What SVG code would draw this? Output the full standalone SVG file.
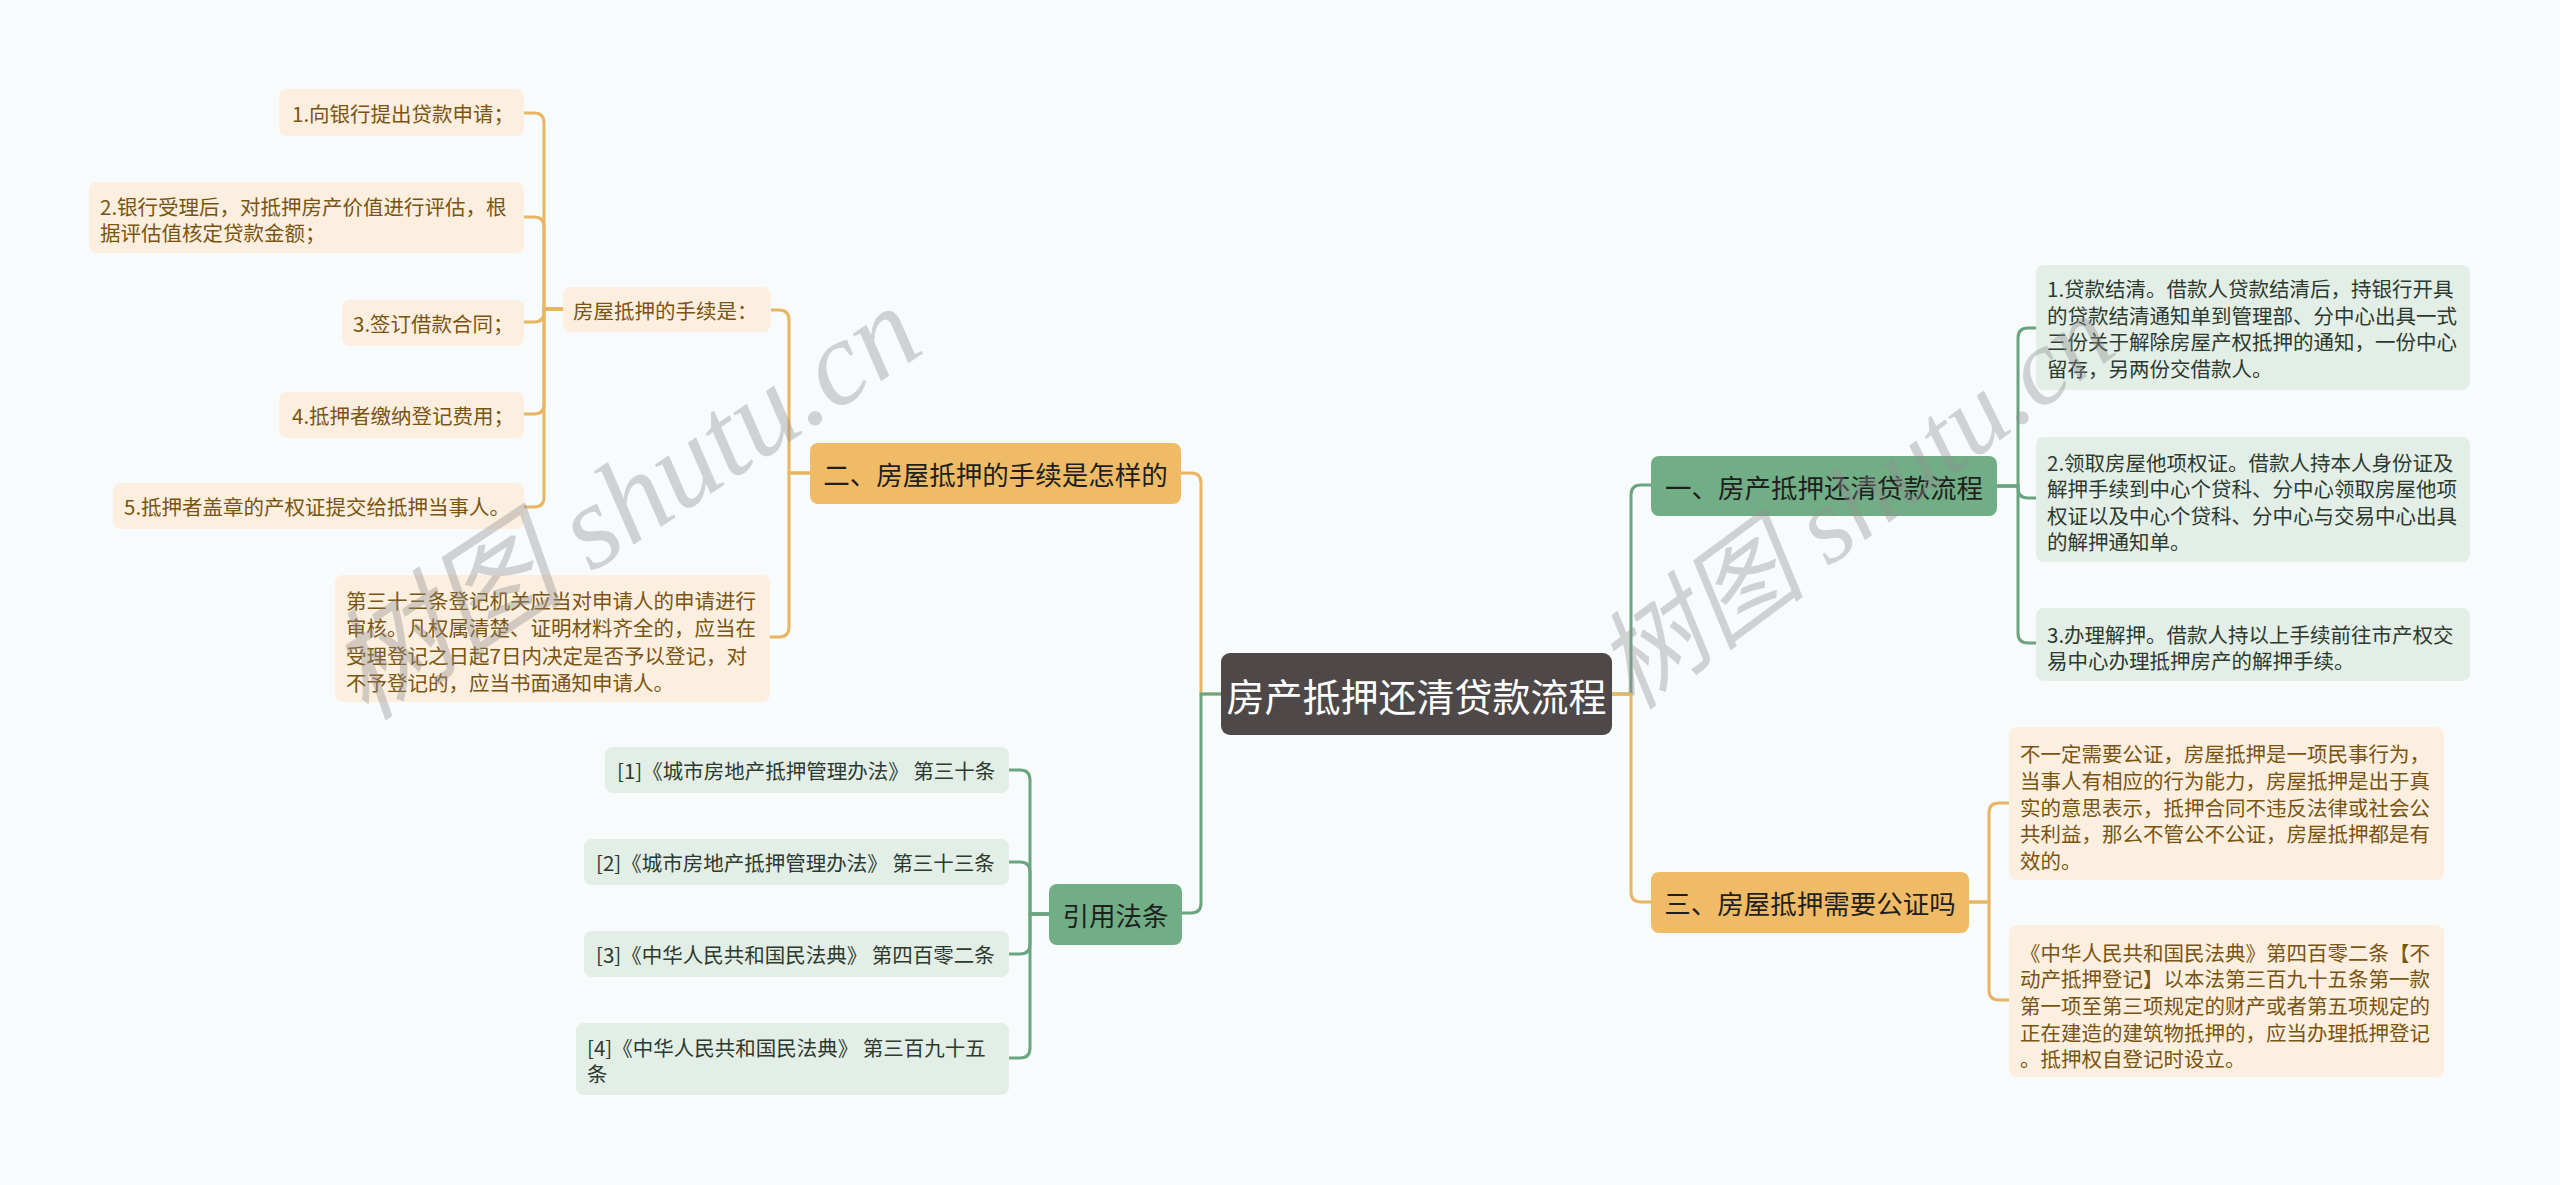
<svg xmlns="http://www.w3.org/2000/svg" width="2560" height="1185" viewBox="0 0 2560 1185">
<defs>
<style>
.bg{fill:#f7fbfc}
.co{fill:none;stroke:#e8b563;stroke-width:3;stroke-linecap:round}
.cg{fill:none;stroke:#6aa57f;stroke-width:3;stroke-linecap:round}
.t{font-family:"Noto Sans CJK SC","Noto Sans",sans-serif;dominant-baseline:central}
.root rect{fill:#4e4848}
.root text{fill:#ffffff;font-size:38px}
.bo rect{fill:#f0bb66}
.bg2 rect{fill:#71ae86}
.bo text,.bg2 text{fill:#1f1f1f;font-size:26.5px}
.lo rect{fill:#fcefdf}
.lo text{fill:#7a5412;font-size:20.5px}
.lg rect{fill:#e3eee6}
.lg text{fill:#2c3a30;font-size:20.5px}
.wm{font-family:"Liberation Serif","Noto Sans CJK SC",serif;font-style:italic;fill:#8f8f8f;opacity:0.38}
</style>
</defs>
<rect class="bg" x="0" y="0" width="2560" height="1185"/>
<g id="connectors">
<path class="co" d="M563,309 H544 V123 Q544,113 534,113 H524"/>
<path class="co" d="M563,309 H544 V227 Q544,217 534,217 H524"/>
<path class="co" d="M563,309 H544 V312 Q544,322 534,322 H524"/>
<path class="co" d="M563,309 H544 V404 Q544,414 534,414 H524"/>
<path class="co" d="M563,309 H544 V497 Q544,507 534,507 H524"/>
<path class="co" d="M810,473 H789 V320 Q789,310 779,310 H771"/>
<path class="co" d="M810,473 H789 V627 Q789,637 779,637 H770"/>
<path class="co" d="M1221,694 H1201 V483 Q1201,473 1191,473 H1181"/>
<path class="cg" d="M1221,694 H1201 V903 Q1201,913 1191,913 H1182"/>
<path class="cg" d="M1049,914 H1030 V780 Q1030,770 1020,770 H1009"/>
<path class="cg" d="M1049,914 H1030 V872 Q1030,862 1020,862 H1009"/>
<path class="cg" d="M1049,914 H1030 V944 Q1030,954 1020,954 H1009"/>
<path class="cg" d="M1049,914 H1030 V1048 Q1030,1058 1020,1058 H1009"/>
<path class="cg" d="M1612,694 H1631 V495 Q1631,485 1641,485 H1651"/>
<path class="co" d="M1612,694 H1631 V892 Q1631,902 1641,902 H1651"/>
<path class="cg" d="M1997,486 H2018 V338 Q2018,328 2028,328 H2036"/>
<path class="cg" d="M1997,486 H2018 V488 Q2018,498 2028,498 H2036"/>
<path class="cg" d="M1997,486 H2018 V633 Q2018,643 2028,643 H2036"/>
<path class="co" d="M1969,902 H1989 V813 Q1989,803 1999,803 H2009"/>
<path class="co" d="M1969,902 H1989 V990 Q1989,1000 1999,1000 H2009"/>
</g>
<g id="root" class="root t"><rect x="1221" y="653" width="391" height="82" rx="9"/><text x="1416.5" y="694" text-anchor="middle">房产抵押还清贷款流程</text></g>
<g id="b2" class="bo t"><rect x="810" y="443" width="371" height="61" rx="8"/><text x="995.5" y="473.5" text-anchor="middle">二、房屋抵押的手续是怎样的</text></g>
<g id="bref" class="bg2 t"><rect x="1049" y="884" width="133" height="61" rx="8"/><text x="1115.5" y="914.5" text-anchor="middle">引用法条</text></g>
<g id="b1" class="bg2 t"><rect x="1651" y="456" width="346" height="60" rx="8"/><text x="1824" y="486" text-anchor="middle">一、房产抵押还清贷款流程</text></g>
<g id="b3" class="bo t"><rect x="1651" y="872" width="318" height="61" rx="8"/><text x="1810" y="902.5" text-anchor="middle">三、房屋抵押需要公证吗</text></g>
<g id="n-proc" class="lo t"><rect x="563" y="287" width="208" height="45" rx="8"/><text x="573" y="310">房屋抵押的手续是：</text></g>
<g id="n-s1" class="lo t"><rect x="279" y="89" width="245" height="47" rx="8"/><text x="292" y="113">1.向银行提出贷款申请；</text></g>
<g id="n-s2" class="lo t"><rect x="89" y="182" width="435" height="71" rx="8"/><text x="100" y="206">2.银行受理后，对抵押房产价值进行评估，根</text><text x="100" y="232">据评估值核定贷款金额；</text></g>
<g id="n-s3" class="lo t"><rect x="342" y="300" width="182" height="46" rx="8"/><text x="353" y="323">3.签订借款合同；</text></g>
<g id="n-s4" class="lo t"><rect x="279" y="392" width="245" height="46" rx="8"/><text x="292" y="415">4.抵押者缴纳登记费用；</text></g>
<g id="n-s5" class="lo t"><rect x="113" y="483" width="411" height="46" rx="8"/><text x="124" y="506">5.抵押者盖章的产权证提交给抵押当事人。</text></g>
<g id="n-art33" class="lo t"><rect x="335" y="575" width="435" height="127" rx="8"/><text x="346" y="600">第三十三条登记机关应当对申请人的申请进行</text><text x="346" y="627">审核。凡权属清楚、证明材料齐全的，应当在</text><text x="346" y="655">受理登记之日起7日内决定是否予以登记，对</text><text x="346" y="682">不予登记的，应当书面通知申请人。</text></g>
<g id="n-r1" class="lg t"><rect x="605" y="747" width="404" height="46" rx="8"/><text x="617" y="770">[1]《城市房地产抵押管理办法》 第三十条</text></g>
<g id="n-r2" class="lg t"><rect x="584" y="839" width="425" height="46" rx="8"/><text x="596" y="862">[2]《城市房地产抵押管理办法》 第三十三条</text></g>
<g id="n-r3" class="lg t"><rect x="584" y="931" width="425" height="46" rx="8"/><text x="596" y="954">[3]《中华人民共和国民法典》 第四百零二条</text></g>
<g id="n-r4" class="lg t"><rect x="576" y="1023" width="433" height="72" rx="8"/><text x="587" y="1047">[4]《中华人民共和国民法典》 第三百九十五</text><text x="587" y="1073">条</text></g>
<g id="n-p1" class="lg t"><rect x="2036" y="265" width="434" height="125" rx="8"/><text x="2047" y="288">1.贷款结清。借款人贷款结清后，持银行开具</text><text x="2047" y="315">的贷款结清通知单到管理部、分中心出具一式</text><text x="2047" y="341">三份关于解除房屋产权抵押的通知，一份中心</text><text x="2047" y="368">留存，另两份交借款人。</text></g>
<g id="n-p2" class="lg t"><rect x="2036" y="437" width="434" height="125" rx="8"/><text x="2047" y="462">2.领取房屋他项权证。借款人持本人身份证及</text><text x="2047" y="488">解押手续到中心个贷科、分中心领取房屋他项</text><text x="2047" y="515">权证以及中心个贷科、分中心与交易中心出具</text><text x="2047" y="541">的解押通知单。</text></g>
<g id="n-p3" class="lg t"><rect x="2036" y="608" width="434" height="73" rx="8"/><text x="2047" y="634">3.办理解押。借款人持以上手续前往市产权交</text><text x="2047" y="660">易中心办理抵押房产的解押手续。</text></g>
<g id="n-q1" class="lo t"><rect x="2009" y="727" width="435" height="153" rx="8"/><text x="2020" y="753">不一定需要公证，房屋抵押是一项民事行为，</text><text x="2020" y="780">当事人有相应的行为能力，房屋抵押是出于真</text><text x="2020" y="807">实的意思表示，抵押合同不违反法律或社会公</text><text x="2020" y="833">共利益，那么不管公不公证，房屋抵押都是有</text><text x="2020" y="860">效的。</text></g>
<g id="n-q2" class="lo t"><rect x="2009" y="925" width="435" height="152" rx="8"/><text x="2020" y="952">《中华人民共和国民法典》第四百零二条【不</text><text x="2020" y="978">动产抵押登记】以本法第三百九十五条第一款</text><text x="2020" y="1005">第一项至第三项规定的财产或者第五项规定的</text><text x="2020" y="1032">正在建造的建筑物抵押的，应当办理抵押登记</text><text x="2020" y="1058">。抵押权自登记时设立。</text></g>
<g id="watermark">
<text class="wm" font-size="120" transform="translate(366,722) rotate(-33.5)">树图 shutu.cn</text>
<text class="wm" font-size="108" transform="translate(1633,712) rotate(-36.5)">树图 shutu.cn</text>
</g>
</svg>
